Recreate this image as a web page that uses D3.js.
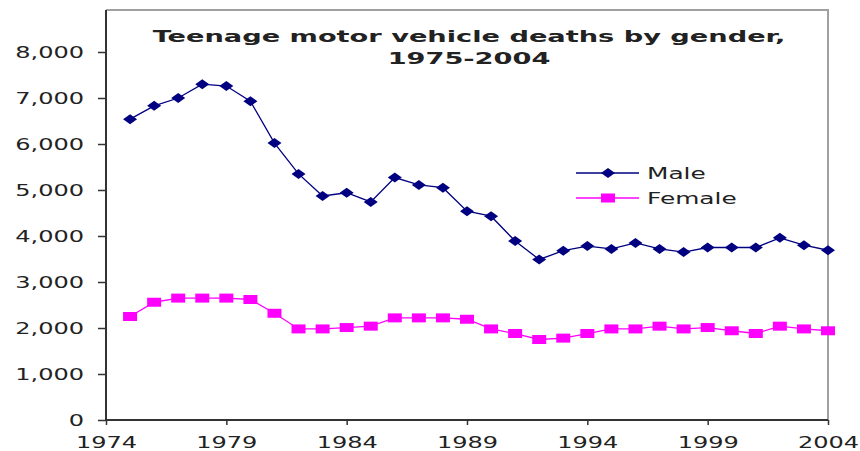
<!DOCTYPE html>
<html>
<head>
<meta charset="utf-8">
<script src="https://cdn.jsdelivr.net/npm/d3@7"></script>
<style>
  body { margin: 0; background: #fff; }
  text { font-family: "DejaVu Sans", Verdana, sans-serif; fill: #222; }
</style>
</head>
<body>
<div id="chart"></div>
<script>
const years = d3.range(1975, 2005);
const male = [6540, 6830, 7000, 7300, 7260, 6930, 6020, 5350, 4870, 4940,
  4740, 5270, 5110, 5050, 4540, 4430, 3890, 3490, 3680, 3780,
  3720, 3850, 3720, 3650, 3750, 3750, 3750, 3960, 3800, 3690];
const female = [2250, 2560, 2650, 2650, 2650, 2620, 2320, 1980, 1980, 2010,
  2040, 2220, 2220, 2220, 2190, 1980, 1880, 1750, 1780, 1880,
  1980, 1980, 2040, 1980, 2010, 1940, 1880, 2040, 1980, 1940];
const xTicks = [1974, 1979, 1984, 1989, 1994, 1999, 2004];
const yTicks = [0, 1000, 2000, 3000, 4000, 5000, 6000, 7000, 8000];
const titleLines = ["Teenage motor vehicle deaths by gender,", "1975-2004"];
const seriesNames = ["Male", "Female"];

const width = 860, height = 451;
const plot = { left: 106, right: 828, top: 10, bottom: 420 };

const svg = d3.select("#chart").append("svg")
  .attr("width", width)
  .attr("height", height);

const x = d3.scaleLinear().domain([1974, 2004]).range([plot.left, plot.right]);
const y = d3.scaleLinear().domain([0, 8000]).range([plot.bottom, 52]);

// widen text like the original (stretched) picture
function stretch(sel, k) {
  sel.each(function() {
    const len = this.getComputedTextLength();
    d3.select(this)
      .attr("textLength", len * k)
      .attr("lengthAdjust", "spacingAndGlyphs");
  });
}

// frame
svg.append("path")
  .attr("d", `M${plot.left},${plot.top}H${plot.right}V${plot.bottom}`)
  .attr("fill", "none")
  .attr("stroke", "#a0a0a0")
  .attr("stroke-width", 2);

// axes
const xAxis = svg.append("g")
  .attr("transform", `translate(0,${plot.bottom})`)
  .call(d3.axisBottom(x).tickValues(xTicks).tickFormat(d3.format("d"))
    .tickSize(5).tickPadding(12));
const yAxis = svg.append("g")
  .attr("transform", `translate(${plot.left},0)`)
  .call(d3.axisLeft(y).tickValues(yTicks).tickFormat(d3.format(",")).tickSize(8).tickPadding(14));

[xAxis, yAxis].forEach(g => {
  g.selectAll(".domain").remove();
  g.selectAll(".tick line").attr("stroke", "#333").attr("stroke-width", 1.5);
  g.selectAll("text").style("font-size", "16px").attr("fill", "#222")
    .call(stretch, 1.5);
});
yAxis.selectAll("text").attr("dy", "0.36em");

svg.append("line")
  .attr("x1", plot.left).attr("x2", plot.left)
  .attr("y1", plot.top).attr("y2", plot.bottom)
  .attr("stroke", "#333").attr("stroke-width", 2);
svg.append("line")
  .attr("x1", plot.left).attr("x2", plot.right)
  .attr("y1", plot.bottom).attr("y2", plot.bottom)
  .attr("stroke", "#333").attr("stroke-width", 2);

// series
const diamond = "M-7,0L0,-5L7,0L0,5Z";
const square = "M-7,-4.5H7V4.5H-7Z";
const series = [
  { name: seriesNames[0], values: male, color: "#000080", shape: diamond },
  { name: seriesNames[1], values: female, color: "#ff00ff", shape: square }
];

const line = d3.line().x((d, i) => x(years[i])).y(d => y(d));

series.forEach(s => {
  svg.append("path")
    .datum(s.values)
    .attr("d", line)
    .attr("fill", "none")
    .attr("stroke", s.color)
    .attr("stroke-width", 1.3);
  svg.append("g").selectAll("path")
    .data(s.values)
    .join("path")
    .attr("d", s.shape)
    .attr("transform", (d, i) => `translate(${x(years[i])},${y(d)})`)
    .attr("fill", s.color);
});

// legend
const legend = svg.append("g").attr("transform", "translate(576,173)");
series.forEach((s, i) => {
  const g = legend.append("g").attr("transform", `translate(0,${i * 25})`);
  g.append("line").attr("x1", 0).attr("x2", 63)
    .attr("stroke", s.color).attr("stroke-width", 1.3);
  g.append("path").attr("d", s.shape).attr("transform", "translate(32,0)")
    .attr("fill", s.color);
  g.append("text").attr("x", 71).attr("dy", "0.36em")
    .style("font-size", "16px").text(s.name).call(stretch, 1.55);
});

// title
svg.append("g").selectAll("text")
  .data(titleLines)
  .join("text")
  .attr("x", 469)
  .attr("y", (d, i) => 42 + i * 22)
  .attr("text-anchor", "middle")
  .style("font-size", "16px")
  .style("font-weight", "bold")
  .attr("fill", "#000")
  .text(d => d)
  .call(stretch, 1.7);
</script>
</body>
</html>
